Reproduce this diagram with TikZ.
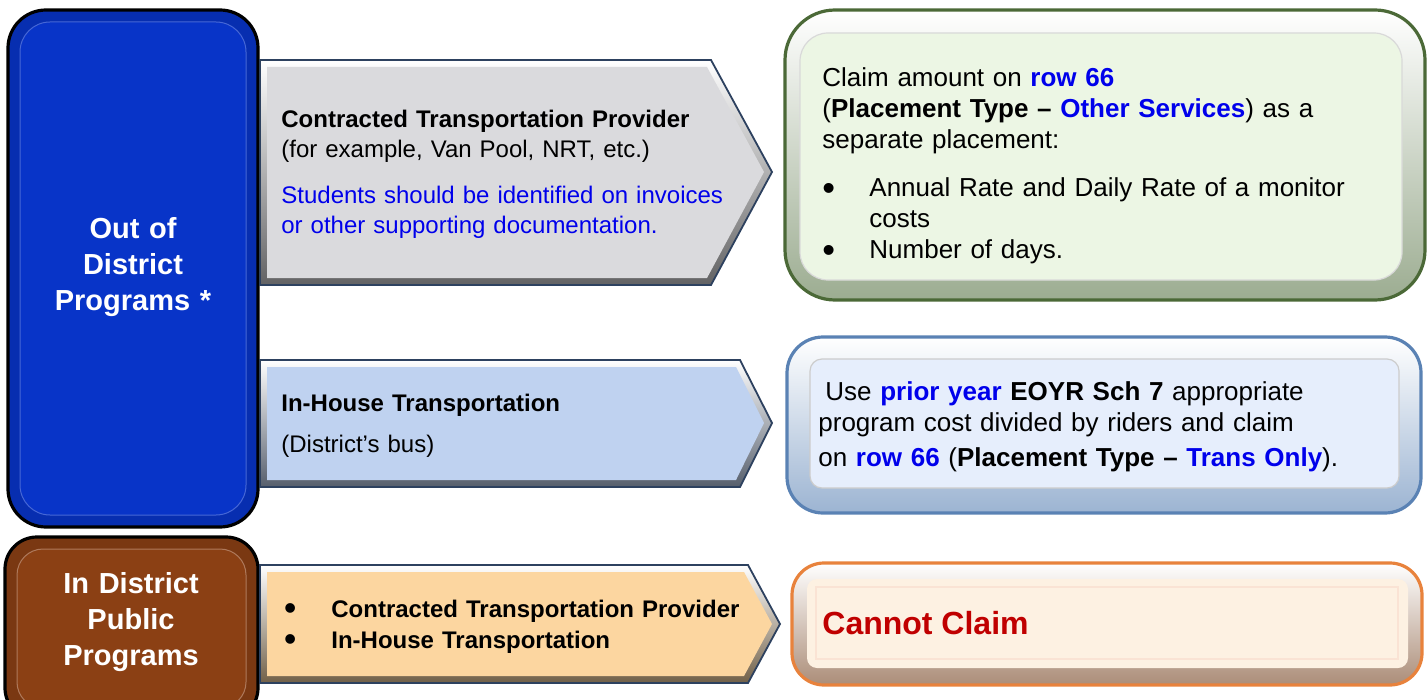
\documentclass[tikz,border=0pt]{standalone}
\usepackage{fontspec}
\setmainfont{Liberation Sans}
\usetikzlibrary{positioning}
\definecolor{oodblue}{RGB}{8, 52, 200}
\definecolor{idbrown}{RGB}{139, 64, 20}
\definecolor{ctpgray}{RGB}{218, 218, 221}
\definecolor{ihtblue}{RGB}{191, 210, 240}
\definecolor{idpeach}{RGB}{252, 214, 160}
\definecolor{arrowline}{RGB}{45, 65, 95}
\definecolor{claimgreen}{RGB}{236, 246, 228}
\definecolor{claimline}{RGB}{75, 105, 55}
\definecolor{useblue}{RGB}{230, 238, 252}
\definecolor{useline}{RGB}{90, 130, 180}
\definecolor{cannotfill}{RGB}{253, 241, 226}
\definecolor{cannotline}{RGB}{232, 130, 60}
\definecolor{hiblue}{RGB}{0, 0, 235}
\definecolor{nored}{RGB}{192, 0, 0}
\newcommand{\listdot}{\makebox[23.5pt][l]{\raisebox{-0.12em}{\scalebox{1.4}{\textbullet}}}}

\begin{document}
\begin{tikzpicture}[x=0.5pt, y=-0.5pt,
  catedge/.style={draw=black, line width=1.6pt},
  arrowedge/.style={draw=arrowline, line width=0.9pt},
  cattxt/.style={inner sep=0pt, text=white, align=center, text width=115pt, font=\fontsize{14.5}{18}\selectfont\bfseries},
  arrowtxt/.style={inner sep=0pt, anchor=base west, align=left, text width=240pt, font=\fontsize{12}{15}\selectfont},
  claimtxt/.style={inner sep=0pt, anchor=base west, align=left, text width=300pt, font=\fontsize{13}{15.5}\selectfont}
]
  \useasboundingbox (0,0) rectangle (1428,700);

  % --- Out of District Programs ---
  \fill[oodblue!88!black, rounded corners=19pt] (8,10) rectangle (258,527);
  \fill[oodblue, rounded corners=15pt] (20,22) rectangle (246,515);
  \draw[oodblue!75!white, line width=0.5pt, rounded corners=15pt] (20,22) rectangle (246,515);
  \draw[catedge, rounded corners=19pt] (8,10) rectangle (258,527);
  \node[cattxt] (oodlabel) at (133,267) {Out of\\District\\Programs *};

  % --- In District Public Programs ---
  \fill[idbrown!88!black, rounded corners=16pt] (5,537) rectangle (258,720);
  \fill[idbrown, rounded corners=13pt] (17,549) rectangle (246,708);
  \draw[idbrown!70!white, line width=0.5pt, rounded corners=13pt] (17,549) rectangle (246,708);
  \draw[catedge, rounded corners=16pt] (5,537) rectangle (258,720);
  \node[cattxt] (idlabel) at (131,622) {In District\\Public\\Programs};

  % --- Contracted provider arrow ---
  \shade[top color=white, bottom color=ctpgray!45!black] (260,60) -- (711,60) -- (772,172) -- (711,285) -- (260,285) -- cycle;
  \fill[ctpgray] (267,67) -- (707,67) -- (764,172) -- (707,278) -- (267,278) -- cycle;
  \draw[arrowedge] (260,60) -- (711,60) -- (772,172) -- (711,285) -- (260,285) -- cycle;
  \node[arrowtxt] (ctptext) at (281,128) {\textbf{Contracted Transportation Provider}\\
    (for example, Van Pool, NRT, etc.)\\[8pt]
    \color{hiblue}Students should be identified on invoices\\
    or other supporting documentation.};

  % --- In-house arrow ---
  \shade[top color=white, bottom color=ihtblue!45!black] (260,360) -- (740,360) -- (772,423) -- (740,487) -- (260,487) -- cycle;
  \fill[ihtblue] (267,367) -- (736,367) -- (764,423) -- (736,480) -- (267,480) -- cycle;
  \draw[arrowedge] (260,360) -- (740,360) -- (772,423) -- (740,487) -- (260,487) -- cycle;
  \node[arrowtxt] (ihttext) at (281,411) {\textbf{In-House Transportation}\\[5.5pt]
    (District’s bus)};

  % --- In district arrow ---
  \shade[top color=white, bottom color=idpeach!45!black] (260,565) -- (748,565) -- (780,624) -- (748,683) -- (260,683) -- cycle;
  \fill[idpeach] (267,572) -- (744,572) -- (772,624) -- (744,676) -- (267,676) -- cycle;
  \draw[arrowedge] (260,565) -- (748,565) -- (780,624) -- (748,683) -- (260,683) -- cycle;
  \node[arrowtxt, font=\fontsize{12}{15.5}\selectfont\bfseries] (idtext) at (284,617) {\listdot Contracted Transportation Provider\\
    \listdot In-House Transportation};

  % --- Claim box ---
  \shade[top color=white, bottom color=claimline!55!white, rounded corners=25pt] (785,10) rectangle (1425,300);
  \draw[claimline, line width=1.6pt, rounded corners=25pt] (785,10) rectangle (1425,300);
  \fill[claimgreen, rounded corners=14pt] (800,33) rectangle (1402,280);
  \draw[white!85!black, line width=0.6pt, rounded corners=14pt] (800,33) rectangle (1402,280);
  \node[claimtxt] (claimtext) at (822,87) {Claim amount on \textbf{\color{hiblue}row 66}\\
    (\textbf{Placement Type – \color{hiblue}Other Services}) as a\\
    separate placement:\\[8.5pt]
    \listdot Annual Rate and Daily Rate of a monitor\\
    \hspace*{23.5pt}costs\\
    \listdot Number of days.};

  % --- Trans only box ---
  \shade[top color=white, bottom color=useline!60!white, rounded corners=18pt] (787,337) rectangle (1421,513);
  \draw[useline, line width=1.6pt, rounded corners=18pt] (787,337) rectangle (1421,513);
  \fill[useblue, rounded corners=6pt] (810,359) rectangle (1399,488);
  \draw[white!80!black, line width=0.6pt, rounded corners=6pt] (810,359) rectangle (1399,488);
  \node[claimtxt] (usetext) at (818,400) {\hspace*{3.5pt}Use \textbf{\color{hiblue}prior year} \textbf{EOYR Sch 7} appropriate\\
    program cost divided by riders and claim\\[2pt]
    on \textbf{\color{hiblue}row 66} (\textbf{Placement Type – \color{hiblue}Trans Only}).};

  % --- Cannot claim box ---
  \shade[top color=white, bottom color=cannotline!50!black!60!white, rounded corners=16pt] (792,563) rectangle (1422,685);
  \draw[cannotline, line width=1.6pt, rounded corners=16pt] (792,563) rectangle (1422,685);
  \fill[cannotfill, rounded corners=5pt] (807,579) rectangle (1408,668);
  \fill[cannotfill] (816,587) rectangle (1398,659);
  \draw[white!78!cannotline, line width=0.8pt] (816,587) rectangle (1398,659);
  \node[inner sep=0pt, anchor=base west, text=nored, font=\fontsize{16}{19}\selectfont\bfseries] (cannottext) at (822,634) {Cannot Claim};
\end{tikzpicture}
\end{document}
